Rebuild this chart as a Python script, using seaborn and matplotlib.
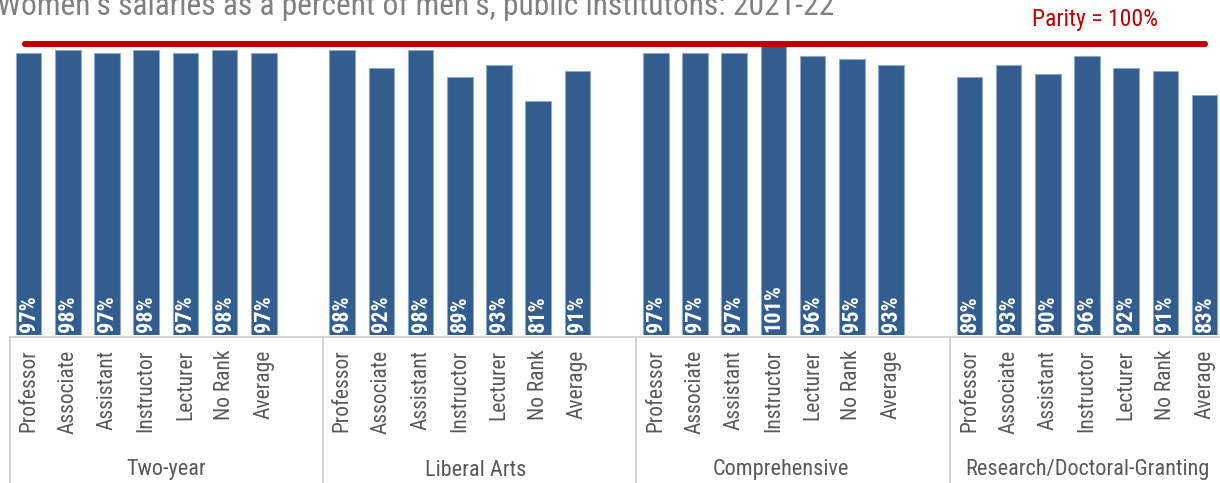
import matplotlib
matplotlib.use("Agg")
import matplotlib.pyplot as plt
import matplotlib.transforms as mtransforms
from matplotlib import font_manager
import seaborn as sns
import pandas as pd

# Data: women's salaries as a percent of men's, public institutions 2021-22
groups = ["Two-year", "Liberal Arts", "Comprehensive", "Research/Doctoral-Granting"]
ranks = ["Professor", "Associate", "Assistant", "Instructor", "Lecturer", "No Rank", "Average"]
two_year = [97, 98, 97, 98, 97, 98, 97]
liberal_arts = [98, 92, 98, 89, 93, 81, 91]
comprehensive = [97, 97, 97, 101, 96, 95, 93]
research = [89, 93, 90, 96, 92, 91, 83]
parity = 100

series = [two_year, liberal_arts, comprehensive, research]

# Each group occupies 7 slots followed by one empty slot
rows = []
for g, (name, vals) in enumerate(zip(groups, series)):
    for i, (rank, v) in enumerate(zip(ranks, vals)):
        rows.append({"slot": g * 8 + i, "group": name, "rank": rank, "value": v})
df = pd.DataFrame(rows)

sns.set_theme(style="white")
names = {f.name for f in font_manager.fontManager.ttflist}
narrow = [n for n in ["Roboto Condensed", "Liberation Sans Narrow", "Open Sans Condensed"]
          if n in names]
font = narrow[:1] + ["Liberation Sans", "DejaVu Sans"]
plt.rcParams["font.family"] = font

W, H = 1220, 483
fig = plt.figure(figsize=(W / 100, H / 100), dpi=100)
slot_px = 39.2
ax = fig.add_axes([9 / W, 148 / H, 31 * slot_px / W, 305 / H])

bar_color = "#335c8f"
sns.barplot(data=df, x="slot", y="value", native_scale=True, width=0.65,
            color=bar_color, saturation=1, edgecolor="#8ea8c8", linewidth=0.8,
            ax=ax, errorbar=None)

ax.set_xlim(-0.5, 30.5)
ax.set_ylim(3, 3 + 305 / 3)
for s in ax.spines.values():
    s.set_visible(False)
ax.set_yticks([])
ax.set_xlabel("")
ax.set_ylabel("")

# Rank labels under each bar
ax.set_xticks(df["slot"])
ax.set_xticklabels(df["rank"], rotation=90, fontsize=15.5, color="#595959",
                   va="top", ha="center")
ax.tick_params(axis="x", length=0, pad=10.5)

# Value labels inside the bars
for x, v in zip(df["slot"], df["value"]):
    ax.annotate(f"{v}%", xy=(x, 3), xytext=(0, 2.0), textcoords="offset points",
                rotation=90, ha="center", va="bottom", color="white",
                fontsize=16, fontweight="bold")

# Parity reference line
ax.plot([-0.1, 30.0], [parity, parity], color="#c00000", lw=4.4,
        solid_capstyle="round", clip_on=False, zorder=5)
ax.text(27.2, 108, f"Parity = {parity}%", color="#c00000", fontsize=17,
        ha="center", va="center", clip_on=False)

# Category box below the axis
tr = mtransforms.blended_transform_factory(ax.transData, fig.transFigure)
box_top = (H - 337) / H
line_kw = dict(color="#d0d0d0", lw=1.3, transform=tr, clip_on=False)
ax.add_line(plt.Line2D([-0.48, 30.5], [box_top, box_top], **line_kw))
for xb in [-0.48, 7.5, 15.5, 23.5]:
    ax.add_line(plt.Line2D([xb, xb], [0, box_top], **line_kw))

group_centers = [3.5, 11.4, 19.2, 27.0]
for name, xc in zip(groups, group_centers):
    ax.text(xc, (H - 470) / H, name, transform=tr, ha="center", va="center",
            fontsize=16, color="#595959")

fig.text(-3 / W, (H - 15) / H,
         "Women\u2019s salaries as a percent of men\u2019s, public institutons: 2021-22",
         ha="left", va="baseline", fontsize=22.7, color="#808080")

fig.savefig("out.png", dpi=100)
